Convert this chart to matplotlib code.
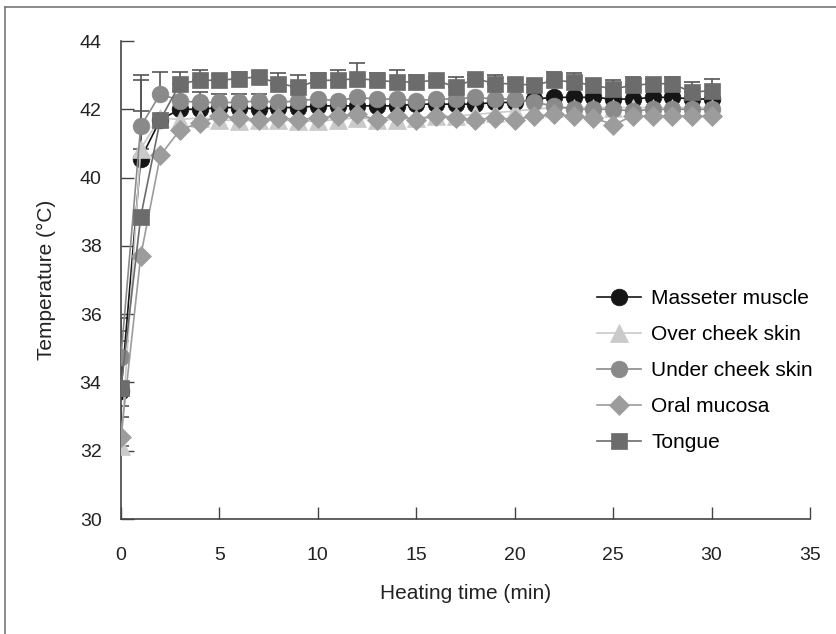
import numpy as np
import matplotlib.pyplot as plt
from matplotlib.lines import Line2D

plt.rcParams['font.family'] = ['Liberation Sans Narrow', 'Liberation Sans', 'DejaVu Sans']

# heating time, min
time = np.arange(0, 31)

masseter = [33.75, 40.55, 41.7, 42.0, 42.0, 42.05, 42.05, 42.0, 42.05, 42.05, 42.1,
            42.1, 42.1, 42.1, 42.1, 42.15, 42.15, 42.15, 42.15, 42.2, 42.2,
            42.3, 42.35, 42.35, 42.35, 42.3, 42.3, 42.35, 42.35, 42.3, 42.3]
over_cheek = [32.15, 40.85, 41.75, 41.7, 41.75, 41.7, 41.65, 41.7, 41.7, 41.65, 41.65,
              41.7, 41.75, 41.7, 41.7, 41.75, 41.8, 41.8, 41.85, 41.9, 41.95,
              42.0, 42.05, 42.05, 42.05, 42.05, 42.05, 42.05, 42.05, 42.05, 42.05]
under_cheek = [34.75, 41.5, 42.45, 42.25, 42.2, 42.2, 42.2, 42.25, 42.2, 42.25, 42.3,
               42.25, 42.35, 42.3, 42.3, 42.25, 42.3, 42.3, 42.35, 42.3, 42.3,
               42.2, 42.1, 42.0, 42.0, 42.0, 41.95, 42.0, 42.0, 42.0, 42.0]
oral_mucosa = [32.4, 37.7, 40.65, 41.4, 41.6, 41.8, 41.75, 41.7, 41.75, 41.7, 41.75,
               41.8, 41.85, 41.7, 41.8, 41.7, 41.8, 41.75, 41.7, 41.75, 41.7,
               41.8, 41.85, 41.8, 41.75, 41.55, 41.8, 41.8, 41.8, 41.8, 41.8]
tongue = [33.85, 38.85, 41.7, 42.75, 42.85, 42.85, 42.9, 42.95, 42.75, 42.65, 42.85,
          42.85, 42.9, 42.85, 42.8, 42.8, 42.85, 42.65, 42.9, 42.75, 42.75,
          42.7, 42.85, 42.8, 42.7, 42.6, 42.7, 42.75, 42.75, 42.5, 42.55]

# upper error (SD), 0 = not visible
err_masseter = [1.45, 2.3] + [0] * 29
err_over = [0.85, 1.1] + [0] * 29
err_under = [1.15, 1.5, 0.65, 0.3, 0.3, 0.25, 0.25, 0.2] + [0] * 23
err_oral = [0.9] + [0] * 30
err_tongue = [1.65, 0, 0, 0.35, 0.3, 0.15, 0.2, 0.15, 0.3, 0.35, 0.2,
              0.3, 0.45, 0.2, 0.35, 0.2, 0.1, 0.3, 0.1, 0.25, 0.15,
              0.1, 0.25, 0.25, 0.2, 0.25, 0.25, 0.15, 0.2, 0.3, 0.35]

labels = ['Masseter muscle', 'Over cheek skin', 'Under cheek skin', 'Oral mucosa', 'Tongue']
series = [masseter, over_cheek, under_cheek, oral_mucosa, tongue]
errors = [err_masseter, err_over, err_under, err_oral, err_tongue]
colors = ['#151515', '#cacaca', '#8a8a8a', '#9c9c9c', '#6c6c6c']
markers = ['o', '^', 'o', 'D', 's']
sizes = [12, 12.5, 12, 10, 12]

fig = plt.figure(figsize=(8.37, 6.34), dpi=100)
ax = fig.add_axes([121 / 837, 1 - 519 / 634, 689 / 837, 478 / 634])

for i in range(len(series)):
    y = np.array(series[i])
    e = np.array(errors[i])
    idx = e > 0
    ax.errorbar(time[idx], y[idx], yerr=[np.zeros(idx.sum()), e[idx]], fmt='none',
                ecolor='#555555', elinewidth=1.2, capsize=6, capthick=1.2, zorder=1)

for i in range(len(series)):
    ax.plot(time, series[i], color=colors[i], lw=1.2, marker=markers[i],
            ms=sizes[i], mfc=colors[i], mec=colors[i], mew=0.5,
            label=labels[i], zorder=2 + i)

ax.set_xlim(0, 35)
ax.set_ylim(30, 44)
ax.set_xticks(np.arange(0, 36, 5))
ax.set_yticks(np.arange(30, 45, 2))
for s in ['top', 'right']:
    ax.spines[s].set_visible(False)
for s in ['left', 'bottom']:
    ax.spines[s].set_color('#444444')
    ax.spines[s].set_linewidth(1.2)
ax.tick_params(axis='x', direction='in', length=9, width=1, color='#444444',
               pad=20, labelsize=14, labelcolor='#222222')
ax.tick_params(axis='y', direction='in', length=9, width=1, color='#444444',
               pad=14, labelsize=14, labelcolor='#222222')

ax.set_xlabel('Heating time (min)', fontsize=15, color='#222222')
ax.set_ylabel('Temperature (°C)', fontsize=15, color='#222222')
ax.xaxis.set_label_coords(0.5, -0.135)
ax.yaxis.set_label_coords(-0.094, 0.5)

leg = ax.legend(loc='upper left', bbox_to_anchor=(597 / 837, 1 - 289 / 634),
                bbox_transform=fig.transFigure, frameon=False,
                labelspacing=0.82, handlelength=2.1, handletextpad=0.5,
                borderpad=0, borderaxespad=0,
                prop={'family': ['Liberation Sans', 'DejaVu Sans'], 'size': 15})

# thin frame round the figure (left and top edges visible)
fig.add_artist(Line2D([5 / 837, 5 / 837], [0, 1 - 7 / 634], color='#777777', lw=1.2))
fig.add_artist(Line2D([5 / 837, 1], [1 - 7 / 634, 1 - 7 / 634], color='#777777', lw=1.2))

fig.savefig('out.png', dpi=100)
